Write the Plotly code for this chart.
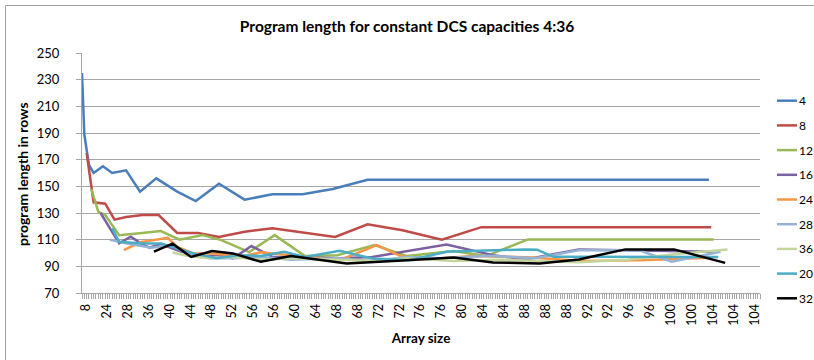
import plotly.graph_objects as go

# Array-size labels shown under every 9th row of the category axis
size_labels = ["8", "24", "28", "36", "40", "44", "48", "52", "56", "56", "60",
               "64", "68", "68", "72", "72", "76", "76", "80", "84", "84", "88",
               "88", "88", "92", "92", "96", "96", "100", "100", "104", "104", "104"]
label_step = 9
n_rows = 293

# Program length (rows) per DCS capacity, given at row index of the sheet
rows_4 = [0, 1, 3, 5, 9, 13, 19, 25, 32, 41, 49, 59, 70, 82, 95, 108, 123, 270]
len_4 = [235, 189, 166, 160, 165, 160, 162, 146, 156, 146, 139, 152, 140, 144, 144, 148, 155, 155]

rows_8 = [2, 4, 5, 10, 14, 19, 26, 33, 41, 50, 59, 70, 82, 109, 123, 138, 155, 172, 271]
len_8 = [175, 150, 138, 137, 125, 127, 128.5, 128.5, 115, 115, 112, 116, 118.5, 112, 121.5, 117, 110, 119.4, 119.4]

rows_12 = [4, 7, 10, 16, 26, 34, 42, 52, 60, 72, 83, 96, 110, 126, 140, 160, 174, 192, 272]
len_12 = [148, 131, 128.5, 113.4, 115, 116.4, 110, 113.4, 109.7, 100.7, 113.4, 97.7, 98.4, 106, 97.7, 101.4, 97.7, 110.2, 110.2]

rows_16 = [8, 12, 16, 21, 25, 29, 34, 42, 51, 58, 65, 73, 82, 111, 125, 157, 177, 191, 214, 272]
len_16 = [130, 118.5, 107.2, 112.2, 107.6, 104, 106.7, 101.4, 97, 98.4, 96, 105.2, 97.1, 96, 97, 106.4, 98.4, 95.2, 102.7, 101]

rows_24 = [18, 25, 37, 41, 48, 55, 65, 68, 77, 111, 127, 138, 154, 168, 194, 215, 240, 271]
len_24 = [102.2, 108, 111.4, 104.6, 99.7, 99.7, 98.4, 97, 100.5, 94.6, 105.9, 97.1, 95.9, 97.7, 96.7, 94, 94.5, 96.5]

rows_28 = [12, 20, 30, 38, 45, 55, 65, 77, 90, 110, 125, 140, 155, 175, 195, 214, 240, 254, 275]
len_28 = [110, 107, 104, 106, 100, 96, 96, 97, 95, 96, 94, 97, 96, 98, 96, 102, 102, 93.4, 101]

rows_36 = [39, 45, 55, 65, 77, 90, 110, 125, 140, 160, 180, 200, 214, 235, 255, 278]
len_36 = [100.4, 98, 96, 97, 95, 96, 95, 94, 96, 94, 95, 94, 93, 95, 99, 102.7]

rows_20 = [13, 16, 26, 34, 48, 58, 68, 77, 87, 96, 111, 125, 141, 157, 191, 196, 203, 274]
len_20 = [118.5, 108.4, 107.2, 107.2, 99.7, 96, 98.4, 97.7, 100.9, 97.1, 101.6, 95.9, 94.6, 100.9, 102.7, 102.5, 97.1, 97]

rows_32 = [31, 39, 47, 56, 65, 77, 90, 114, 140, 160, 177, 197, 214, 234, 255, 277]
len_32 = [101, 107, 97, 101.4, 99.7, 93.4, 97.7, 92.2, 94.6, 96.7, 92.9, 92.2, 95.2, 102.7, 102.7, 92.6]

series = [
    ("4", rows_4, len_4, "#4A7EBB"),
    ("8", rows_8, len_8, "#BE4B48"),
    ("12", rows_12, len_12, "#98B954"),
    ("16", rows_16, len_16, "#7D60A0"),
    ("24", rows_24, len_24, "#F79646"),
    ("28", rows_28, len_28, "#95B3D7"),
    ("36", rows_36, len_36, "#C3D69B"),
    ("20", rows_20, len_20, "#4BACC6"),
    ("32", rows_32, len_32, "#000000"),
]

font_family = "Lato, 'Open Sans', sans-serif"
grid_color = "#A6A6A6"

W, H = 814, 360
M_L, M_R, M_T, M_B = 82, 54, 53, 67
plot_w = W - M_L - M_R
plot_h = H - M_T - M_B


def px_to_paper_x(px):
    return (px - M_L) / plot_w


def px_to_paper_y(py):
    return (H - M_B - py) / plot_h


fig = go.Figure()
for name, xs, ys, color in series:
    fig.add_trace(go.Scatter(
        x=xs, y=ys, mode="lines", name=name, showlegend=False,
        line=dict(color=color, width=2.5),
    ))

# Chart-area frame
shapes = [dict(type="rect", xref="paper", yref="paper",
               x0=px_to_paper_x(5.5), x1=1.3, y0=-0.5, y1=px_to_paper_y(5.5),
               line=dict(color="#A0A0A0", width=1), layer="below")]

# Y axis title, rotated, at the far left of the chart area
annotations = [dict(text="<b>program length in rows</b>", xref="paper", yref="paper",
                    x=px_to_paper_x(22), y=px_to_paper_y(174), textangle=-90,
                    xanchor="center", yanchor="middle", showarrow=False,
                    font=dict(size=14))]

# Legend column to the right of the plot (line swatch + capacity label)
leg_top, leg_gap = 100.7, 24.7
for i, (name, _, _, color) in enumerate(series):
    yp = px_to_paper_y(leg_top + i * leg_gap)
    shapes.append(dict(type="line", xref="paper", yref="paper",
                       x0=px_to_paper_x(777), x1=px_to_paper_x(797), y0=yp, y1=yp,
                       line=dict(color=color, width=2.5)))
    annotations.append(dict(text=name, xref="paper", yref="paper",
                            x=px_to_paper_x(797), y=yp, xanchor="left", yanchor="middle",
                            showarrow=False, font=dict(size=12)))

fig.update_layout(
    width=W, height=H,
    margin=dict(l=M_L, r=M_R, t=M_T, b=M_B),
    paper_bgcolor="white", plot_bgcolor="white",
    font=dict(family=font_family, size=12, color="#000000"),
    title=dict(text="<b>Program length for constant DCS capacities 4:36</b>",
               x=0.5, xanchor="center", y=0.925, yanchor="middle",
               font=dict(size=15.5)),
    showlegend=False,
    xaxis=dict(
        range=[0, n_rows - 1],
        tickmode="array",
        tickvals=[i * label_step for i in range(len(size_labels))],
        ticktext=size_labels,
        tickangle=-90,
        ticklabelshift=4,
        ticks="outside", ticklen=5, tickcolor=grid_color,
        minor=dict(tickmode="linear", tick0=0, dtick=1, ticks="outside",
                   ticklen=5, tickcolor=grid_color, showgrid=False),
        showgrid=False, zeroline=False,
        showline=True, linecolor=grid_color, linewidth=1,
        tickfont=dict(size=12.5),
        title=dict(text="<b>Array size</b>", font=dict(size=13.5), standoff=8),
        automargin=False,
    ),
    yaxis=dict(
        range=[70, 250], dtick=20, tick0=70,
        showgrid=True, gridcolor=grid_color, gridwidth=1,
        zeroline=False,
        ticks="outside", ticklen=5, tickcolor=grid_color,
        ticklabelstandoff=14,
        showline=True, linecolor=grid_color, linewidth=1,
        tickfont=dict(size=13),
        automargin=False,
    ),
    shapes=shapes,
    annotations=annotations,
)

fig.write_html("out.html")
